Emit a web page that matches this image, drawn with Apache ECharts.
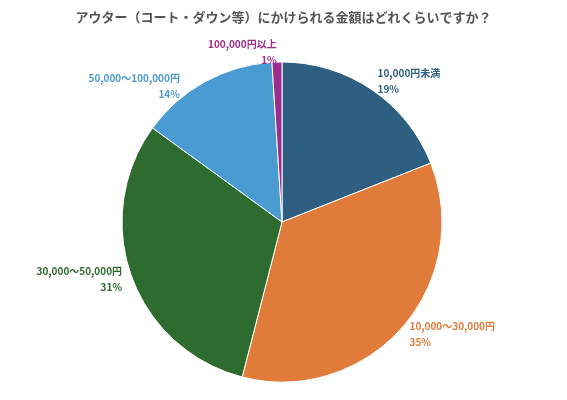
<!DOCTYPE html>
<html><head><meta charset="utf-8">
<script src="https://cdn.jsdelivr.net/npm/echarts@6/dist/echarts.min.js"></script>
<style>body{margin:0}#c{width:567px;height:400px}</style></head>
<body><div id="c"></div>
<script>
const categories=['10,000円未満','10,000～30,000円','30,000～50,000円','50,000～100,000円','100,000円以上'];
const values=[19,35,31,14,1];
const colors=['#2e5f80','#e07b39','#2e6b2e','#4a9bd1','#9b2d8f'];
const chart=echarts.init(document.getElementById('c'));
chart.setOption({
  title:{text:'アウター（コート・ダウン等）にかけられる金額はどれくらいですか？',left:'center',top:6,
    textStyle:{fontSize:13,fontWeight:'bold',color:'#555',fontFamily:'Noto Sans CJK JP'}},
  series:[{type:'pie',center:[282,222],radius:160,startAngle:90,clockwise:true,
    data:categories.map((n,i)=>({name:n,value:values[i],itemStyle:{color:colors[i]},
      label:{color:colors[i]}})),
    itemStyle:{borderColor:'#fff',borderWidth:1},
    label:{show:true,position:'outside',formatter:'{b}\n{c}%',fontSize:10,fontWeight:'bold',
      lineHeight:16,align:'center',fontFamily:'Noto Sans CJK JP',distanceToLabelLine:0},
    labelLine:{show:false,length:10,length2:0},
    labelLayout:{hideOverlap:false}
  }]
});
</script></body></html>
